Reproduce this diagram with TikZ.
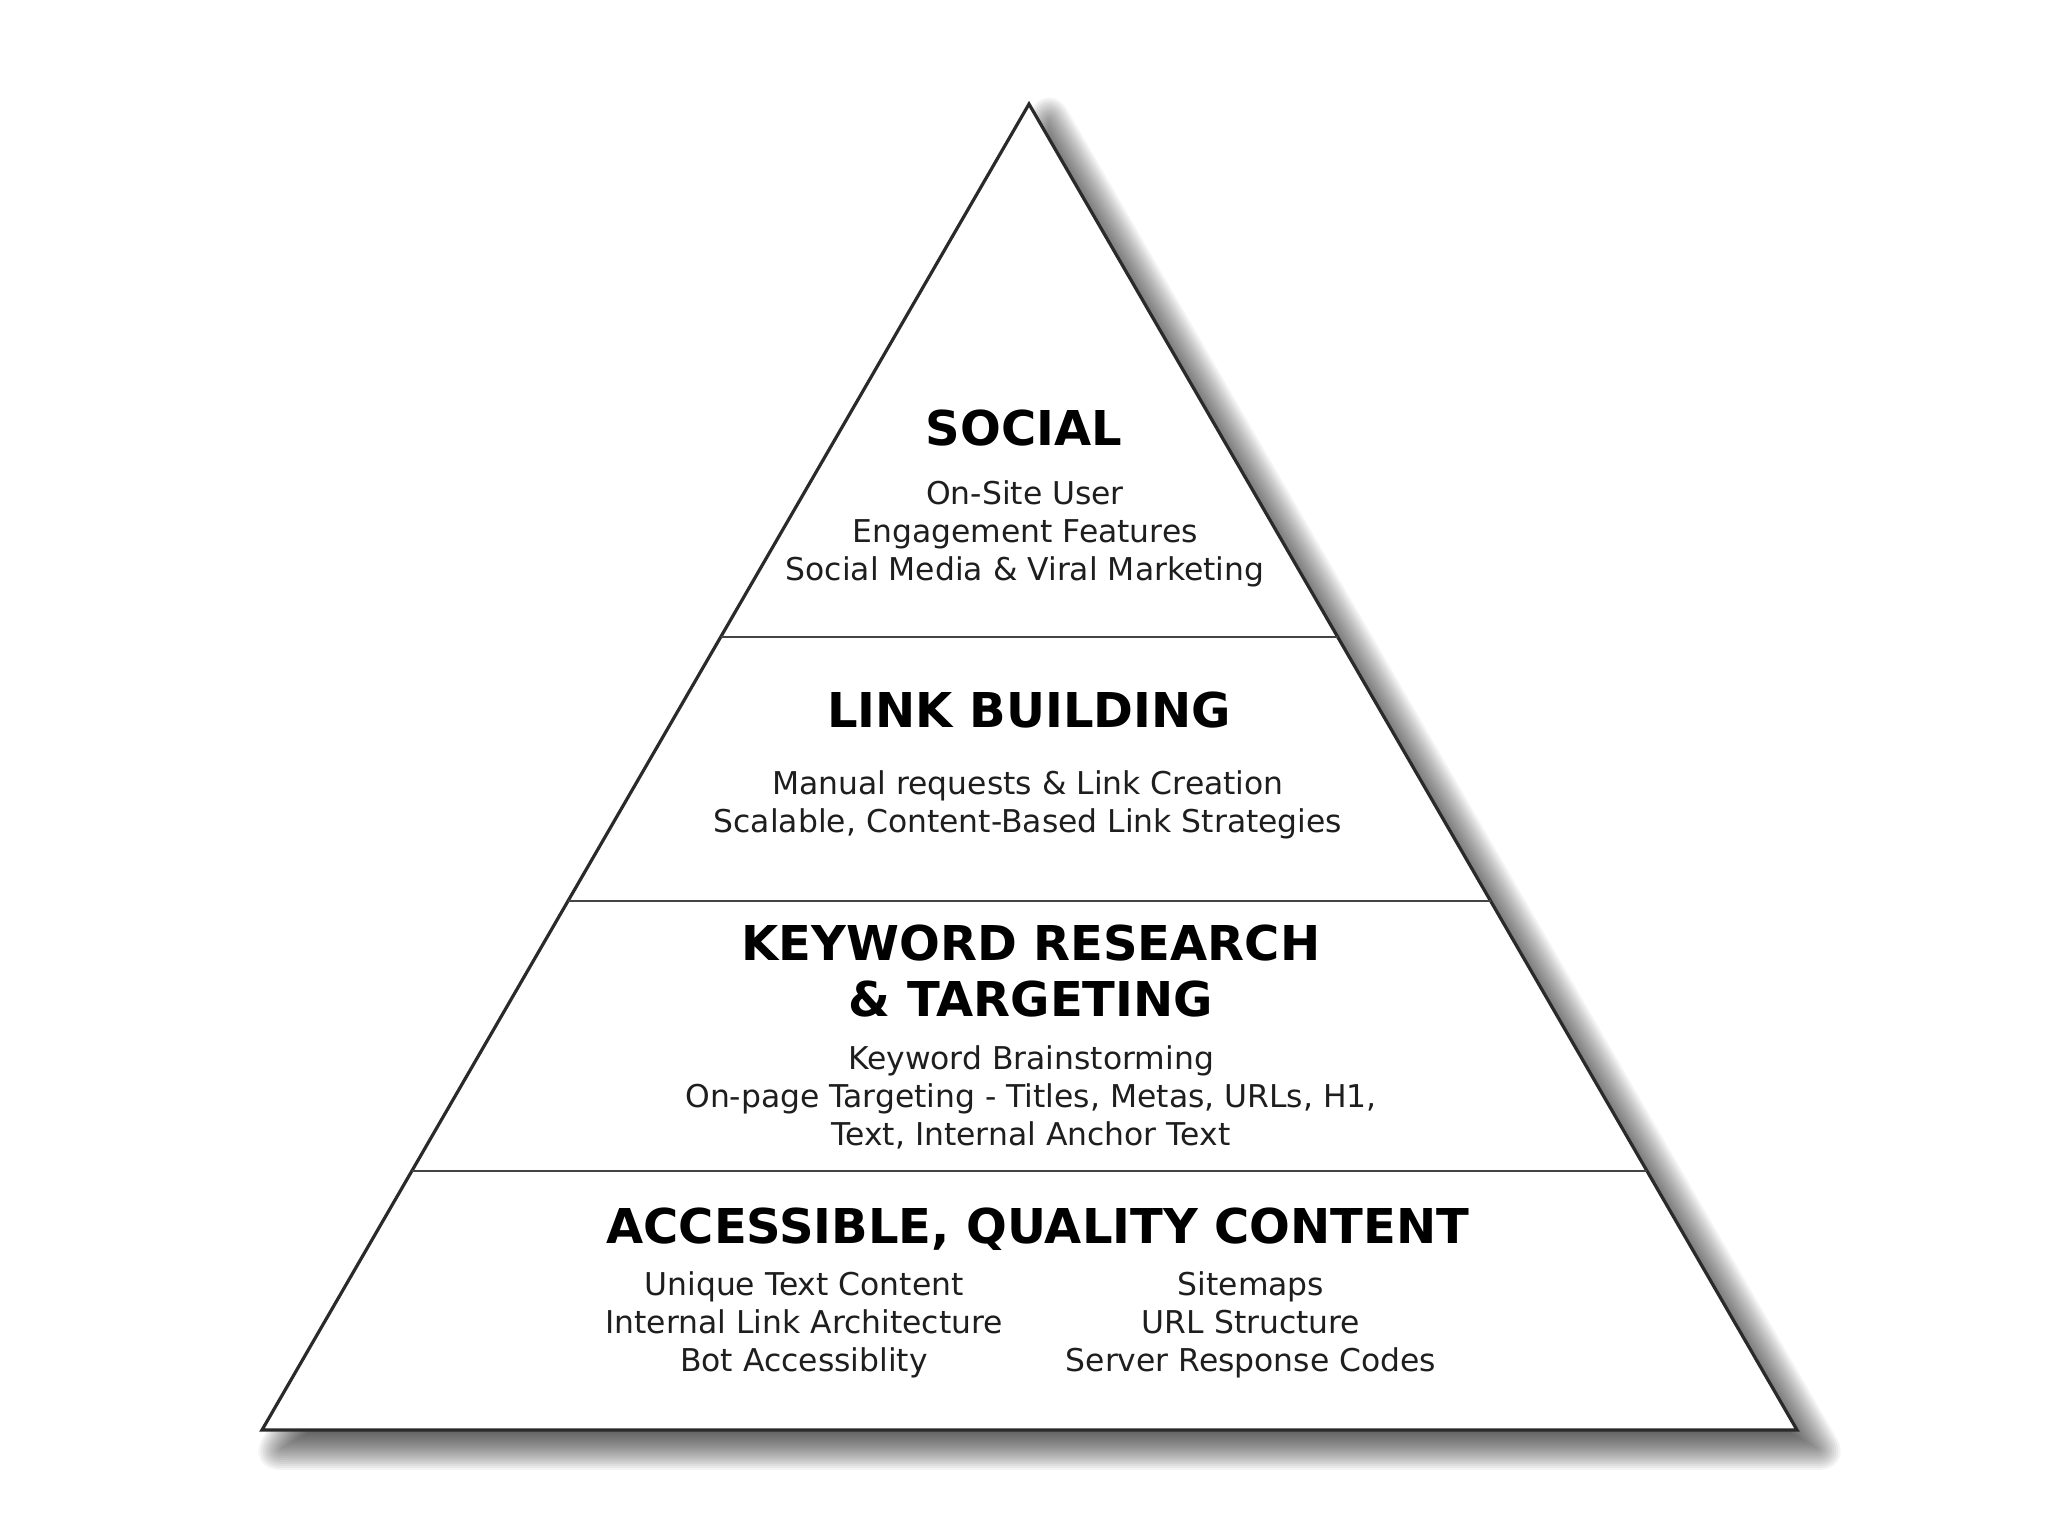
\documentclass[tikz,border=0pt]{standalone}
\usepackage{fontspec}
\setmainfont{DejaVu Sans}
\usetikzlibrary{calc}
\definecolor{edge}{HTML}{2A2A2A}
\definecolor{divline}{HTML}{444444}
\definecolor{bodytxt}{HTML}{1E1E1E}
\tikzset{
  ttl/.style={font=\bfseries\fontsize{24}{28}\selectfont, text=black, align=center, inner sep=0pt},
  bdy/.style={font=\fontsize{15.7}{19}\selectfont, text=bodytxt, align=center, inner sep=0pt},
  divider/.style={draw=divline, line width=1.1pt},
  shadowlayer/.style={fill=black, opacity=0.042},
}
\begin{document}
\begin{tikzpicture}[x=0.5pt,y=-0.5pt]
\useasboundingbox (0,0) rectangle (2048,1536);
\fill[white] (0,0) rectangle (2048,1536);
% soft shadow: stacked offset copies of the triangle, grown/shrunk about its incenter
\foreach \r in {-22,-20,...,22}{
  \pgfmathsetmacro\k{1+\r/442.6}
  \pgfmathsetmacro\rc{max(0,0.866*\r)}
  \fill[shadowlayer, rounded corners=\rc pt, shift={(20,18)}, scale around={\k:(1029.25,987.4)}]
    (1029,104) -- (262,1430) -- (1797,1430) -- cycle;
}
% triangle corners
\coordinate (A) at (1029,104);
\coordinate (L) at (262,1430);
\coordinate (R) at (1797,1430);
% triangle
\filldraw[fill=white, draw=edge, line width=1.6pt, line join=miter] (A) -- (L) -- (R) -- cycle;
% dividers
\foreach \n/\yy in {d1/637, d2/901, d3/1171}{
  \coordinate (\n l) at ($(A)!{(\yy-104)/1326}!(L)$);
  \coordinate (\n r) at ($(A)!{(\yy-104)/1326}!(R)$);
  \draw[divider] (\n l) -- (\n r);
}
% texts
\node[ttl] (social) at (1024,428) {SOCIAL};
\node[bdy] (socialtxt) at (1025,534) {On-Site User\\Engagement Features\\Social Media \& Viral Marketing};
\node[ttl] (link) at (1029,710) {LINK BUILDING};
\node[bdy] (linktxt) at (1028,805) {Manual requests \& Link Creation\\Scalable, Content-Based Link Strategies};
\node[ttl] (kw) at (1031,971) {KEYWORD RESEARCH\\\& TARGETING};
\node[bdy] (kwtxt) at (1031,1097) {Keyword Brainstorming\\On-page Targeting - Titles, Metas, URLs, H1,\\Text, Internal Anchor Text};
\node[ttl] (acc) at (1038,1229) {ACCESSIBLE, QUALITY CONTENT};
\node[bdy] (accl) at (804,1325) {Unique Text Content\\Internal Link Architecture\\Bot Accessiblity};
\node[bdy] (accr) at (1251,1325) {Sitemaps\\URL Structure\\Server Response Codes};
\end{tikzpicture}
\end{document}
